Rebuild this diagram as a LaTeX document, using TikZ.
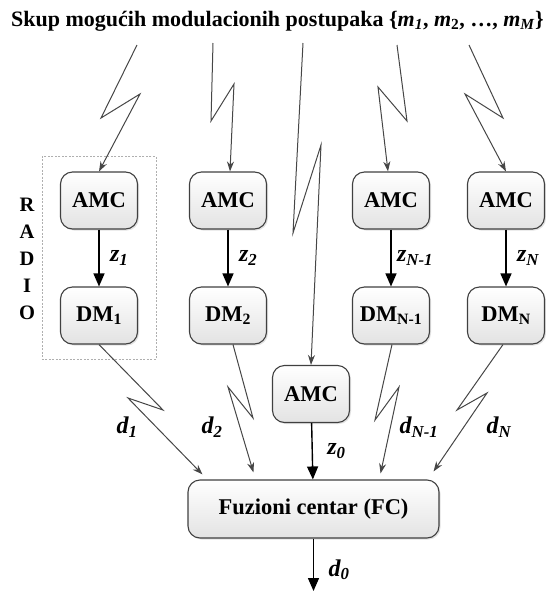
\documentclass[tikz,border=0pt]{standalone}
\usepackage{fontspec}
\setmainfont{Liberation Serif}
\usetikzlibrary{arrows.meta,positioning,shadows,fit}
\definecolor{BoxLine}{RGB}{64,64,64}
\definecolor{LinkGray}{RGB}{70,70,70}
\definecolor{FrameGray}{RGB}{175,175,175}

\begin{document}
\begin{tikzpicture}[x=1pt,y=-1pt,
    font=\fontsize{22.5}{26}\selectfont\bfseries,
    blok/.style={draw=BoxLine, line width=1.1pt, rounded corners=12pt,
      top color=white, bottom color=gray!22, minimum width=77pt, minimum height=57pt,
      inner sep=2pt, drop shadow={shadow xshift=1.5pt, shadow yshift=-1.5pt, fill=gray!45}},
    veza/.style={-{Triangle[length=13pt,width=11pt]}, line width=1.4pt, black},
    radio/.style={-{Stealth[length=10pt,width=7pt]}, LinkGray, line width=1pt},
    oznaka/.style={font=\fontsize{24}{26}\selectfont\bfseries\itshape}]
  \useasboundingbox (0,0) rectangle (546,592);
  % naslov
  \node[font=\fontsize{22}{24}\selectfont\bfseries] (naslov) at (277.5,21) {Skup mogućih modulacionih postupaka
    \{\textit{m}\textsubscript{\textit{1}}, \textit{m}\textsubscript{2}, …, \textit{m}\textsubscript{\textit{M}}\}};
  % radio cvorovi
  \node[blok] (amc1) at (99,200.5) {AMC};
  \node[blok] (dm1) at (99,315.5) {DM\textsubscript{1}};
  \node[blok] (amc2) at (228,200.5) {AMC};
  \node[blok] (dm2) at (228,315.5) {DM\textsubscript{2}};
  \node[blok] (amc3) at (391,200.5) {AMC};
  \node[blok] (dm3) at (391,315.5) {DM\textsubscript{N-1}};
  \node[blok] (amcN) at (506,200.5) {AMC};
  \node[blok] (dmN) at (506,315.5) {DM\textsubscript{N}};
  \node[blok] (amc0) at (311,394) {AMC};
  \node[blok, minimum width=251pt, minimum height=58pt] (fc) at (313.5,509) {Fuzioni centar (FC)};
  \node[draw=FrameGray, line width=0.6pt, dash pattern=on 2pt off 1.5pt,
    inner xsep=18pt, inner ysep=15pt, fit=(amc1)(dm1)] (okvir) {};
  \node[align=center, font=\fontsize{20.5}{27}\selectfont\bfseries] (radiotxt) at (27,258.5) {R\\A\\D\\I\\O};
  % lokalne veze
  \draw[veza] (amc1) -- node[oznaka, right=7pt] {z\textsubscript{1}} (dm1);
  \draw[veza] (amc2) -- node[oznaka, right=7pt] {z\textsubscript{2}} (dm2);
  \draw[veza] (amc3) -- node[oznaka, right=2pt] {z\textsubscript{N-1}} (dm3);
  \draw[veza] (amcN) -- node[oznaka, right=7pt] {z\textsubscript{N}} (dmN);
  \draw[veza] (amc0) -- node[oznaka, right=11pt] {z\textsubscript{0}} (fc);
  \coordinate (izlaz) at (313.5,591);
  \draw[veza] (fc) -- node[oznaka, right=11pt, yshift=-5pt] {d\textsubscript{0}} (izlaz);
  % radio linkovi odozgo
  \coordinate (s1) at (137,45);
  \coordinate (s2) at (213,43);
  \coordinate (s0) at (303,43);
  \coordinate (s3) at (397,45);
  \coordinate (sN) at (469,45);
  \draw[radio] (s1) -- (101,118) -- (140,94) -- (amc1.north);
  \draw[radio] (s2) -- (211,121) -- (234,84) -- ([xshift=2pt]amc2.north);
  \draw[radio] (s0) -- (293,233) -- (321,145) -- (amc0.north);
  \draw[radio] (s3) -- (407,121) -- (378,87) -- ([xshift=-3pt]amc3.north);
  \draw[radio] (sN) -- (503,118) -- (465,94) -- (amcN.north);
  % radio linkovi ka FC
  \draw[radio] (dm1.south) -- (163,410) -- (128,398) -- ([shift={(15,-5)}]fc.north west);
  \draw[radio] ([xshift=5pt]dm2.south) -- (253,418) -- (228,387) -- ([shift={(66,-7)}]fc.north west);
  \draw[radio] ([xshift=1pt]dm3.south) -- (375,420) -- (399,387) -- ([shift={(-59,-6)}]fc.north east);
  \draw[radio] ([xshift=-3pt]dmN.south) -- (457,410) -- (487,393) -- ([shift={(-6,-8)}]fc.north east);
  \node[oznaka] (ld1) at (127,427) {d\textsubscript{1}};
  \node[oznaka] (ld2) at (212,427) {d\textsubscript{2}};
  \node[oznaka] (ld3) at (419,427) {d\textsubscript{N-1}};
  \node[oznaka] (ldN) at (499,427) {d\textsubscript{N}};
\end{tikzpicture}
\end{document}
